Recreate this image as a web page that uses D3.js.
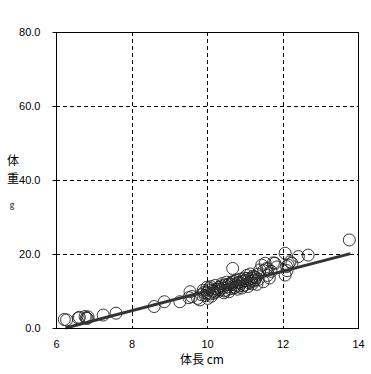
<!DOCTYPE html>
<html>
<head>
<meta charset="utf-8">
<script src="https://cdn.jsdelivr.net/npm/d3@7"></script>
<style>
  body { margin: 0; background: #fff; }
  svg { display: block; }
  .tick-label { font: 11px "Liberation Sans Narrow", "Liberation Sans", Arial, sans-serif; fill: #000; }
  .jp { font-family: "Noto Sans CJK JP", sans-serif; fill: #000; }
</style>
</head>
<body>
<svg id="chart" width="371" height="374"></svg>
<script>

// body length (cm)
var lengthCm = [6.22, 6.28, 6.59, 6.62, 6.77, 6.8, 6.83, 6.85, 7.25, 7.59, 8.6, 8.87, 9.28, 9.52, 9.55,
  9.6, 9.75, 9.81, 9.85, 9.9, 9.95, 10.0, 10.0, 10.02, 10.05, 10.08, 10.1, 10.12, 10.15, 10.2,
  10.22, 10.25, 10.3, 10.32, 10.35, 10.4, 10.42, 10.45, 10.48, 10.5, 10.52, 10.55, 10.58, 10.6, 10.62,
  10.65, 10.68, 10.7, 10.72, 10.75, 10.78, 10.8, 10.82, 10.85, 10.88, 10.9, 10.92, 10.95, 10.98, 11.0,
  11.02, 11.05, 11.08, 11.1, 11.12, 11.15, 11.18, 11.2, 11.22, 11.25, 11.27, 11.3, 11.32, 11.35, 11.4,
  11.45, 11.49, 11.5, 11.54, 11.58, 11.6, 11.62, 11.65, 11.7, 11.76, 11.8, 11.85, 12.07, 12.07, 12.11,
  12.12, 12.15, 12.2, 12.25, 12.42, 12.68, 13.77,
  9.92, 10.06, 10.18, 10.28, 10.38, 10.46, 10.56, 10.66, 10.74, 10.86, 10.96, 11.06, 11.16, 11.26, 11.36];

// body weight (g)
var weightG = [2.3, 2.2, 2.7, 2.9, 3.1, 2.7, 2.6, 3.0, 3.5, 4.0, 5.8, 7.1, 7.1, 8.2, 9.8,
  8.5, 8.0, 7.6, 9.0, 10.2, 8.8, 9.5, 11.0, 8.0, 10.3, 9.2, 11.2, 8.6, 10.0, 9.7,
  11.5, 10.6, 9.9, 11.0, 10.4, 12.0, 10.8, 9.5, 11.6, 10.2, 12.4, 11.1, 9.8, 12.0, 10.6,
  11.8, 16.1, 12.6, 10.9, 11.6, 12.9, 10.5, 12.2, 11.3, 13.2, 12.0, 10.8, 12.6, 13.5, 11.6,
  12.8, 14.2, 11.2, 13.0, 12.2, 14.6, 13.4, 11.9, 14.0, 12.7, 13.0, 13.6, 11.8, 14.5, 15.7,
  17.0, 12.5, 15.5, 17.5, 16.1, 14.2, 16.0, 13.5, 15.3, 17.6, 17.5, 16.5, 20.2, 14.3, 16.6,
  15.5, 17.0, 17.9, 17.5, 19.3, 19.7, 23.8,
  9.6, 10.8, 9.4, 10.5, 11.4, 10.0, 11.7, 12.3, 11.0, 12.4, 11.4, 13.4, 12.6, 13.8, 13.1];

// fitted line end points
var fitX = [6.25, 13.8];
var fitY = [0, 20.1];

var xTicks = [6, 8, 10, 12, 14];
var yTicks = [0, 20, 40, 60, 80];

var svg = d3.select("#chart"),
  margin = {top: 32, right: 13, bottom: 46, left: 56},
  width = +svg.attr("width") - margin.left - margin.right,
  height = +svg.attr("height") - margin.top - margin.bottom,
  g = svg.append("g").attr("transform", "translate(" + margin.left + "," + margin.top + ")");

var x = d3.scaleLinear().domain([6, 14]).range([0, width]);
var y = d3.scaleLinear().domain([0, 80]).range([height, 0]);

// dashed grid
g.selectAll(".vgrid")
  .data(xTicks.slice(1, -1))
  .enter().append("line")
    .attr("x1", function(d) { return Math.round(x(d)) + 0.5; })
    .attr("x2", function(d) { return Math.round(x(d)) + 0.5; })
    .attr("y1", 0)
    .attr("y2", height)
    .attr("stroke", "#000")
    .attr("stroke-dasharray", "4,3");

g.selectAll(".hgrid")
  .data(yTicks.slice(1, -1))
  .enter().append("line")
    .attr("y1", function(d) { return Math.round(y(d)) + 0.5; })
    .attr("y2", function(d) { return Math.round(y(d)) + 0.5; })
    .attr("x1", 0)
    .attr("x2", width)
    .attr("stroke", "#000")
    .attr("stroke-dasharray", "4,3");

// y axis
var yAxis = g.append("g")
  .attr("transform", "translate(0.5,0)")
  .call(d3.axisLeft(y).tickValues(yTicks).tickFormat(d3.format(".1f")).tickSize(4).tickPadding(12));
yAxis.select(".domain").remove();
yAxis.selectAll("text").attr("class", "tick-label").attr("font-size", null).attr("font-family", null);

// x axis labels
var xAxis = g.append("g")
  .attr("transform", "translate(0," + height + ")")
  .call(d3.axisBottom(x).tickValues(xTicks).tickSize(0).tickPadding(12));
xAxis.select(".domain").remove();
xAxis.selectAll("text").attr("class", "tick-label").attr("font-size", "12px").attr("font-family", null);

// points
g.selectAll(".pt")
  .data(lengthCm)
  .enter().append("circle")
    .attr("class", "pt")
    .attr("cx", function(d) { return x(d); })
    .attr("cy", function(d, i) { return y(weightG[i]); })
    .attr("r", 6)
    .attr("fill", "none")
    .attr("stroke", "#222")
    .attr("stroke-width", 0.9);

// fitted line
g.append("line")
  .attr("x1", x(fitX[0]))
  .attr("y1", y(fitY[0]))
  .attr("x2", x(fitX[1]))
  .attr("y2", y(fitY[1]))
  .attr("stroke", "#333")
  .attr("stroke-width", 3);

// frame
g.append("rect")
  .attr("x", 0.5)
  .attr("y", 0.5)
  .attr("width", width)
  .attr("height", height)
  .attr("fill", "none")
  .attr("stroke", "#000");

// axis titles
svg.append("text")
  .attr("class", "jp")
  .attr("x", margin.left + width / 2 - 5)
  .attr("y", 364)
  .attr("text-anchor", "middle")
  .style("font-size", "12px")
  .text("体長 cm");

svg.append("text")
  .attr("class", "jp")
  .attr("x", 13)
  .attr("y", 165)
  .attr("text-anchor", "middle")
  .style("font-size", "12px")
  .text("体");

svg.append("text")
  .attr("class", "jp")
  .attr("x", 13)
  .attr("y", 183)
  .attr("text-anchor", "middle")
  .style("font-size", "12px")
  .text("重");

svg.append("text")
  .attr("class", "jp")
  .attr("x", 12)
  .attr("y", 208)
  .attr("text-anchor", "middle")
  .style("font-size", "8px")
  .text("g");

</script>
</body>
</html>
